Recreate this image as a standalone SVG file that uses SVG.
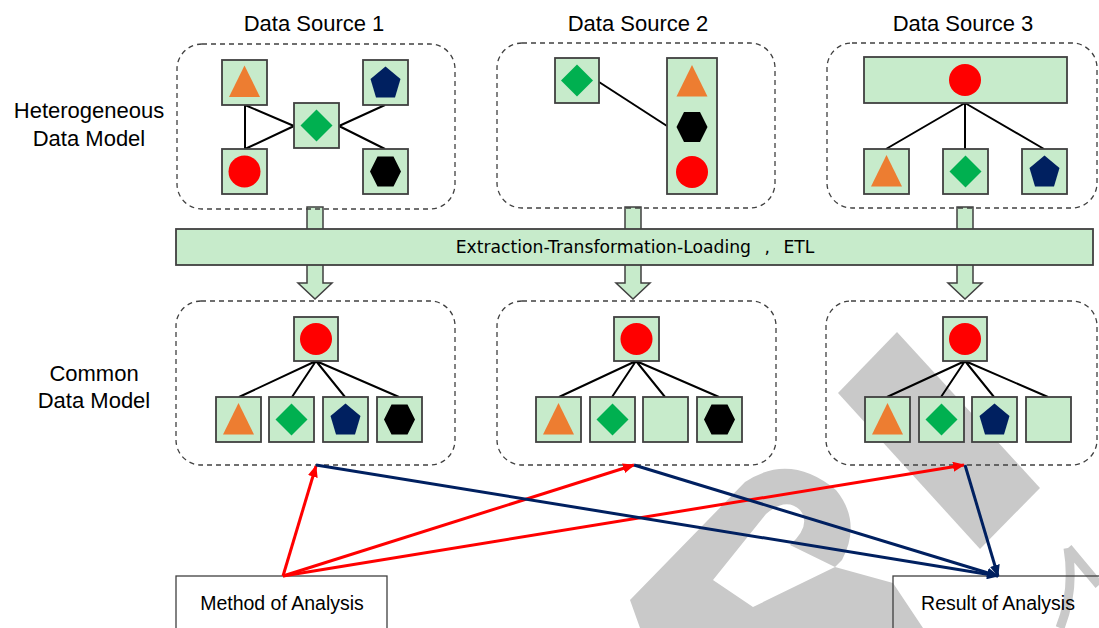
<svg xmlns="http://www.w3.org/2000/svg" xmlns:xlink="http://www.w3.org/1999/xlink" width="1099" height="628" viewBox="0 0 1099 628">
<style>
.lbl{font-family:"Liberation Sans",Arial,sans-serif;font-size:22px;fill:#000;text-anchor:middle}
.sm{font-family:"Liberation Sans",Arial,sans-serif;font-size:19.5px;fill:#000;text-anchor:middle}
.etl{font-family:"DejaVu Sans",sans-serif;font-size:17.2px;fill:#000;text-anchor:middle;word-spacing:8px}
.dash{fill:none;stroke:#404040;stroke-width:1.3;stroke-dasharray:5 4}
.nb{fill:#C7EBCB;stroke:#404040;stroke-width:1.8}
.ln{stroke:#000;stroke-width:2;fill:none}
.red{stroke:#FF0000;stroke-width:3;fill:none}
.blue{stroke:#002060;stroke-width:3;fill:none}
.blk{fill:#C7EBCB;stroke:#404040;stroke-width:1.5}
.wm{fill:#C9C9C9}
.box{fill:none;stroke:#404040;stroke-width:1.3}
</style>
<defs>
<path id="tri" d="M0,-17 L15.5,14.5 L-15.5,14.5Z" fill="#ED7D31"/>
<path id="dia" d="M0,-16 L16,0 L0,16 L-16,0Z" fill="#00B050"/>
<polygon id="pent" points="0,-16 15,-3.5 9.5,15 -9.5,15 -15,-3.5" fill="#002060"/>
<polygon id="hex" points="-15.5,0 -8,-15 8,-15 15.5,0 8,15 -8,15" fill="#000"/>
<circle id="cir" r="16" fill="#FF0000"/>
<marker id="ar" viewBox="0 0 12 10" markerWidth="12" markerHeight="10" refX="11" refY="5" orient="auto" markerUnits="userSpaceOnUse"><path d="M0,0 L12,5 L0,10Z" fill="#FF0000"/></marker>
<marker id="ab" viewBox="0 0 12 10" markerWidth="12" markerHeight="10" refX="11" refY="5" orient="auto" markerUnits="userSpaceOnUse"><path d="M0,0 L12,5 L0,10Z" fill="#002060"/></marker>
</defs>
<rect width="1099" height="628" fill="#fff"/>

<g id="watermark">
<polygon class="wm" points="838,393 897,332 1040,488 980,549"/>
<path class="wm" d="M630,600 L745,482 Q790,452 836,490 Q862,522 842,560 L835,567 L790,545 Q812,525 800,510 Q786,497 766,514 L713,580 L753,607 L835,567 L893,583 L923,628 L640,628 Z"/>
<path d="M1068,548 Q1075,590 1060,628 M1068,548 L1099,585" stroke="#C9C9C9" stroke-width="9" fill="none"/>
</g>

<g id="titles">
<text class="lbl" x="314" y="31">Data Source 1</text>
<text class="lbl" x="638" y="31">Data Source 2</text>
<text class="lbl" x="963" y="31">Data Source 3</text>
<text class="lbl" x="89" y="118">Heterogeneous</text>
<text class="lbl" x="89" y="146">Data Model</text>
<text class="lbl" x="94" y="381">Common</text>
<text class="lbl" x="94" y="408">Data Model</text>
</g>

<g id="etl-arrows">
<polygon class="blk" points="307,207 323,207 323,283 332,283 315,299 298,283 307,283"/>
<polygon class="blk" points="625,207 641,207 641,283 650,283 633,299 616,283 625,283"/>
<polygon class="blk" points="957,207 973,207 973,283 982,283 965,299 948,283 957,283"/>
</g>

<g id="hetero1">
<rect class="dash" x="177" y="44" width="278" height="165" rx="25"/>
<path class="ln" d="M245,105 L245,149 M245,105 L294,126 M245,149 L294,126 M339,126 L385,105 M339,126 L385,149"/>
<rect class="nb" x="222" y="60" width="45" height="45"/>
<rect class="nb" x="363" y="60" width="45" height="45"/>
<rect class="nb" x="294" y="103" width="45" height="45"/>
<rect class="nb" x="222" y="149" width="45" height="45"/>
<rect class="nb" x="363" y="149" width="45" height="45"/>
<use xlink:href="#tri" x="244.5" y="82.5"/>
<use xlink:href="#pent" x="385.5" y="82.5"/>
<use xlink:href="#dia" x="316.5" y="125.5"/>
<use xlink:href="#cir" x="244.5" y="171.5"/>
<use xlink:href="#hex" x="385.5" y="171.5"/>
</g>

<g id="hetero2">
<rect class="dash" x="497" y="43" width="278" height="165" rx="25"/>
<path class="ln" d="M599,82 L667,126"/>
<rect class="nb" x="555" y="58" width="44" height="45"/>
<rect class="nb" x="667" y="58" width="50" height="136"/>
<use xlink:href="#dia" x="577" y="80.5"/>
<use xlink:href="#tri" x="692" y="82"/>
<use xlink:href="#hex" x="692" y="127"/>
<use xlink:href="#cir" x="692" y="172"/>
</g>

<g id="hetero3">
<rect class="dash" x="827" y="43" width="270" height="165" rx="25"/>
<path class="ln" d="M965,103 L886,149 M965,103 L965,149 M965,103 L1044,149"/>
<rect class="nb" x="864" y="57" width="203" height="46"/>
<rect class="nb" x="864" y="149" width="45" height="45"/>
<rect class="nb" x="943" y="149" width="45" height="45"/>
<rect class="nb" x="1022" y="149" width="45" height="45"/>
<use xlink:href="#cir" x="965" y="80"/>
<use xlink:href="#tri" x="886.5" y="172"/>
<use xlink:href="#dia" x="965.5" y="171.5"/>
<use xlink:href="#pent" x="1044.5" y="171.5"/>
</g>

<g id="etl">
<rect class="nb" x="176" y="229" width="917" height="36" stroke-width="1.5"/>
<text class="etl" x="635" y="253">Extraction-Transformation-Loading , ETL</text>
</g>

<g id="common1">
<rect class="dash" x="176" y="301" width="279" height="164" rx="25"/>
<path class="ln" d="M316,361 L239,397 M316,361 L292,397 M316,361 L345,397 M316,361 L399,397"/>
<rect class="nb" x="294" y="317" width="44" height="44"/>
<rect class="nb" x="216" y="397" width="45" height="45"/>
<rect class="nb" x="269" y="397" width="45" height="45"/>
<rect class="nb" x="323" y="397" width="45" height="45"/>
<rect class="nb" x="377" y="397" width="45" height="45"/>
<use xlink:href="#cir" x="316" y="339"/>
<use xlink:href="#tri" x="238.5" y="420"/>
<use xlink:href="#dia" x="291.5" y="419.5"/>
<use xlink:href="#pent" x="345.5" y="419.5"/>
<use xlink:href="#hex" x="399.5" y="419.5"/>
</g>

<g id="common2">
<rect class="dash" x="497" y="301" width="279" height="164" rx="25"/>
<path class="ln" d="M636,361 L559,397 M636,361 L612,397 M636,361 L665,397 M636,361 L719,397"/>
<rect class="nb" x="614" y="317" width="45" height="44"/>
<rect class="nb" x="536" y="397" width="45" height="45"/>
<rect class="nb" x="590" y="397" width="45" height="45"/>
<rect class="nb" x="643" y="397" width="45" height="45"/>
<rect class="nb" x="697" y="397" width="45" height="45"/>
<use xlink:href="#cir" x="636.5" y="339"/>
<use xlink:href="#tri" x="558.5" y="420"/>
<use xlink:href="#dia" x="612.5" y="419.5"/>
<use xlink:href="#hex" x="719.5" y="419.5"/>
</g>

<g id="common3">
<rect class="dash" x="826" y="301" width="271" height="164" rx="25"/>
<path class="ln" d="M965,361 L887,397 M965,361 L941,397 M965,361 L994,397 M965,361 L1048,397"/>
<rect class="nb" x="943" y="317" width="44" height="44"/>
<rect class="nb" x="865" y="397" width="45" height="45"/>
<rect class="nb" x="919" y="397" width="45" height="45"/>
<rect class="nb" x="972" y="397" width="45" height="45"/>
<rect class="nb" x="1026" y="397" width="45" height="45"/>
<use xlink:href="#cir" x="965" y="339"/>
<use xlink:href="#tri" x="887.5" y="420"/>
<use xlink:href="#dia" x="941.5" y="419.5"/>
<use xlink:href="#pent" x="994.5" y="419.5"/>
</g>

<g id="method">
<rect class="box" x="176" y="576" width="211" height="60"/>
<text class="sm" x="282" y="610">Method of Analysis</text>
</g>
<g id="result">
<rect class="box" x="893" y="576" width="220" height="60"/>
<text class="sm" x="998" y="610">Result of Analysis</text>
</g>

<g id="connectors">
<line class="red" x1="283" y1="576" x2="316" y2="466" marker-end="url(#ar)"/>
<line class="red" x1="283" y1="576" x2="634" y2="465" marker-end="url(#ar)"/>
<line class="red" x1="283" y1="576" x2="964" y2="465" marker-end="url(#ar)"/>
<line class="blue" x1="316" y1="465" x2="998" y2="576" marker-end="url(#ab)"/>
<line class="blue" x1="634" y1="465" x2="998" y2="576" marker-end="url(#ab)"/>
<line class="blue" x1="965" y1="465" x2="998" y2="576" marker-end="url(#ab)"/>
</g>
</svg>
